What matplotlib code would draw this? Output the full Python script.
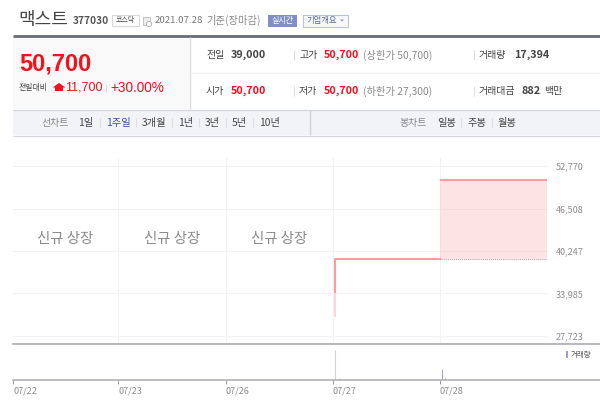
import matplotlib
matplotlib.use('Agg')
import matplotlib.pyplot as plt
from matplotlib.patches import Rectangle, Polygon

plt.rcParams['font.family'] = ['Noto Sans CJK KR', 'DejaVu Sans']
ARIAL = ['Liberation Sans', 'Noto Sans CJK KR']

dates = ['07/22', '07/23', '07/26', '07/27', '07/28']
date_pos = [0.017, 1, 2, 3, 4]
y_ticks = [27723, 33985, 40247, 46508, 52770]
y_labels = ['27,723', '33,985', '40,247', '46,508', '52,770']
prev_close = 39000
close_price = 50700
first_day_x = [3.02, 3.02, 4.0]
first_day_y = [30500, 39000, 39000]
second_day_x = [4.0, 5.0]
second_day_y = [50700, 50700]
no_data_pos = [0.5, 1.5, 2.5]
vol_x = [3.02, 3.06, 3.11, 3.16, 4.015, 4.05, 4.09]
vol_y = [47000, 2500, 1200, 800, 17394, 3000, 800]
vol_colors = ['#d0d4da', '#d0d4da', '#d0d4da', '#d0d4da', '#a89cd8', '#a89cd8', '#a89cd8']

W, H = 600, 407
fig = plt.figure(figsize=(6, 4.07), dpi=100)
fig.patch.set_facecolor('white')

def axes_px(x0, y0, x1, y1, **kw):
    return fig.add_axes([x0 / W, 1 - y1 / H, (x1 - x0) / W, (y1 - y0) / H], **kw)

ui = axes_px(0, 0, W, H)
ui.set_xlim(0, W)
ui.set_ylim(H, 0)
ui.axis('off')

def T(x, y, s, size=7, color='#444444', weight='normal', ha='left', **kw):
    ui.text(x, y, s, fontsize=size, color=color, fontweight=weight, ha=ha, va='center', **kw)

def box(x0, y0, x1, y1, fc='none', ec='none', lw=0.8):
    ui.add_patch(Rectangle((x0, y0), x1 - x0, y1 - y0, fc=fc, ec=ec, lw=lw))

def hl(y, x0, x1, c, lw=1):
    ui.plot([x0, x1], [y, y], color=c, lw=lw, solid_capstyle='butt')

def vl(x, y0, y1, c, lw=0.8):
    ui.plot([x, x], [y0, y1], color=c, lw=lw, solid_capstyle='butt')

# header
T(18, 19.5, '맥스트', 13, '#444444')
T(73, 21, '377030', 7.3, '#555555', 'bold')
box(111.5, 15, 138.5, 26, ec='#d8d8d8')
T(125, 20.2, '코스닥', 5, '#444444', ha='center')
box(143, 17, 150, 25, fc='#eeeeee', ec='#bbbbbb', lw=0.6)
ui.add_patch(plt.Circle((149, 24), 2.6, fc='white', ec='#aaaaaa', lw=0.6))
T(155, 20.3, '2021.07.28', 6.9, '#777777')
T(206, 20.3, '기준(장마감)', 7.4, '#888888')
box(268, 15, 297, 26.5, fc='#8090c4')
T(282.5, 20.5, '실시간', 5.8, 'white', ha='center')
box(302.5, 15, 347.5, 26.5, fc='#f6f8fd', ec='#b6c2e0')
T(306, 20.3, '기업개요', 6, '#5a6a94')
ui.add_patch(Polygon([[340, 19.5], [344, 19.5], [342, 21.5]], fc='#8c98b8', ec='none'))

# panel
box(13, 37, 189, 109, fc='#f9f9f9')
box(13, 110, 600, 135, fc='#f1f3f6')
hl(35.5, 13, 600, '#666c75', 2)
vl(189.5, 37, 109, '#dddddd', 1)
hl(72.5, 190, 600, '#eeeeee', 1)
hl(109.5, 13, 600, '#d6d8dc', 1)
hl(135.5, 13, 600, '#d6d8dc', 1)
vl(309.5, 110, 135, '#cfd2d8', 1)

T(19, 64, '50,700', 17, '#f5101c', 'bold', family=ARIAL)
T(19, 87.5, '전일대비', 5.7, '#444444')
ui.add_patch(Polygon([[59, 83], [52.5, 87.5], [55, 87.5], [55, 91], [63, 91], [63, 87.5], [65.5, 87.5]], fc='#f01020', ec='none'))
T(65.5, 87.5, '11,700', 9, '#f01020', family=ARIAL)
vl(105.5, 84, 92, '#dddddd')
T(110, 87.5, '+30.00%', 9.8, '#f01020', family=ARIAL)

T(206, 55, '전일', 7.2, '#444444')
T(231, 55, '39,000', 7.8, '#444444', 'bold')
T(206, 91, '시가', 7.2, '#444444')
T(231, 91, '50,700', 7.8, '#f01020', 'bold')
vl(293.5, 50, 60, '#dddddd')
vl(293.5, 86, 96, '#dddddd')
T(299, 55, '고가', 7.2, '#444444')
T(324, 55, '50,700', 7.8, '#f01020', 'bold')
T(363, 55, '(상한가 50,700)', 7.4, '#888888')
T(299, 91, '저가', 7.2, '#444444')
T(324, 91, '50,700', 7.8, '#f01020', 'bold')
T(363, 91, '(하한가 27,300)', 7.4, '#888888')
vl(473.5, 50, 60, '#dddddd')
vl(473.5, 86, 96, '#dddddd')
T(479, 55, '거래량', 7.2, '#444444')
T(514, 55, '17,394', 7.8, '#444444', 'bold')
T(479, 91, '거래대금', 7.2, '#444444')
T(522, 91, '882', 7.8, '#444444', 'bold')
T(544, 91, '백만', 7.2, '#444444')

# toolbar
TY = 123
T(41, TY, '선차트', 7.2, '#888888')
for x, s, c in [(78, '1일', '#444444'), (106, '1주일', '#3f51a0'), (142, '3개월', '#444444'),
                (178, '1년', '#444444'), (205, '3년', '#444444'), (232, '5년', '#444444'),
                (259, '10년', '#444444')]:
    T(x, TY, s, 7.4, c, 'medium')
for x in [99.5, 135.5, 171.5, 198.5, 225.5, 252.5]:
    vl(x, 118, 127, '#dcdfe4')
T(399, TY, '봉차트', 7.2, '#888888')
for x, s in [(437, '일봉'), (467, '주봉'), (498, '월봉')]:
    T(x, TY, s, 7.4, '#444444', 'medium')
for x in [460.5, 491.5]:
    vl(x, 118, 127, '#dcdfe4')

# price chart
px_per_day = 107.2
origin_px = 11.2
x_left = (13 - origin_px) / px_per_day
x_right = (600 - origin_px) / px_per_day
px_per_val = 170 / (52770 - 27723)
ax = axes_px(13, 158, 600, 344)
ax.set_xlim(x_left, x_right)
ax.set_ylim(27723 - (344 - 336) / px_per_val, 52770 + (166 - 158) / px_per_val)
ax.patch.set_alpha(0)
for s in ['top', 'left', 'right']:
    ax.spines[s].set_visible(False)
ax.spines['bottom'].set_color('#a8abb0')
ax.spines['bottom'].set_linewidth(1.2)
ax.set_xticks(date_pos[1:])
ax.set_xticklabels([])
ax.tick_params(axis='x', length=0)
ax.xaxis.grid(True, color='#f2f2f2', lw=0.8)
for v in y_ticks:
    ax.plot([x_left, 5], [v, v], color='#f2f2f2', lw=0.8, zorder=1, clip_on=False)
ax.set_yticks(y_ticks)
ax.set_yticklabels(y_labels, fontsize=6.5, color='#8c8c8c')
ax.yaxis.tick_right()
ax.tick_params(axis='y', length=0, pad=-32)
for lab in ax.get_yticklabels():
    lab.set_ha('left')
ax.set_axisbelow(True)
ax.plot(first_day_x[:2], first_day_y[:2], color='#ffd0d2', lw=1.3, solid_capstyle='butt', zorder=3)
ax.plot(first_day_x[:2], [34000, 39000], color='#ff9a9e', lw=1.4, solid_capstyle='butt', zorder=3)
ax.plot(first_day_x[1:], first_day_y[1:], color='#ff9a9e', lw=1.4, zorder=3)
ax.fill_between(second_day_x, prev_close, second_day_y, color='#f9b8bc', alpha=0.38, lw=0, zorder=2)
ax.plot(second_day_x, second_day_y, color='#ff9a9e', lw=1.4, solid_capstyle='butt', zorder=3)
ax.plot(second_day_x, [prev_close, prev_close], color='#a89a9c', lw=0.7, ls=(0, (1, 1)), zorder=3)
for p in no_data_pos:
    ax.text(p, (46508 + 40247) / 2 - 1400, '신규 상장', fontsize=10.4, color='#8a8a8a',
            ha='center', va='center')

# volume chart
vax = axes_px(13, 345, 600, 380)
vax.set_xlim(x_left, x_right)
vax.set_ylim(0, 47000 * 35 / 30)
vax.patch.set_alpha(0)
for s in ['top', 'left', 'right']:
    vax.spines[s].set_visible(False)
vax.spines['bottom'].set_color('#a8abb0')
vax.spines['bottom'].set_linewidth(1.1)
vax.vlines(vol_x, 0, vol_y, colors=vol_colors, lw=0.8)
vax.set_yticks([])
vax.set_xticks(date_pos)
vax.set_xticklabels(dates, fontsize=6.5, color='#8c8c8c', ha='left')
vax.tick_params(axis='x', length=3, width=0.7, color='#999999', pad=2)

box(566, 351, 568, 358, fc='#a89cd8')
T(571, 354.7, '거래량', 5.4, '#555555')

fig.savefig('out.png', dpi=100)
